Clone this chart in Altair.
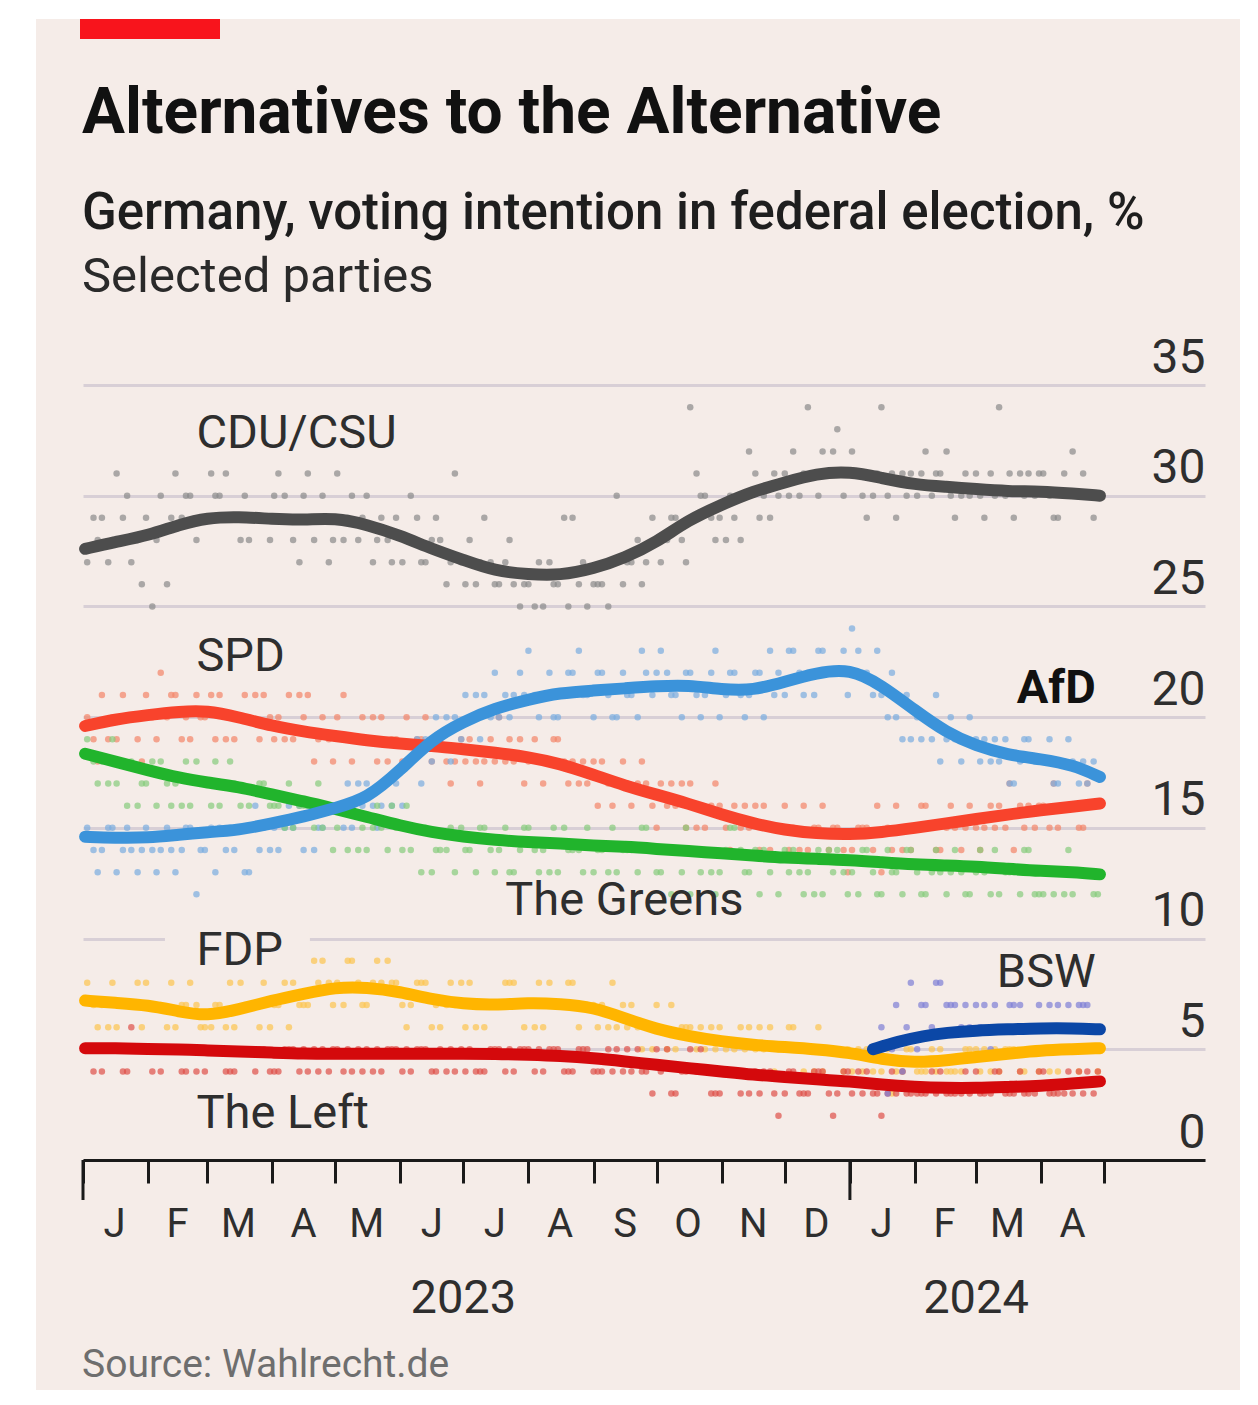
import altair as alt
import pandas as pd

# ---------------- smoothed trend lines (semi-monthly readings, %) ----------------
line_dates = ["2023-01-02", "2023-01-16", "2023-02-01", "2023-02-16", "2023-03-01", "2023-03-16",
              "2023-04-01", "2023-04-16", "2023-05-01", "2023-05-16", "2023-06-01", "2023-06-16",
              "2023-07-01", "2023-07-16", "2023-08-01", "2023-08-16", "2023-09-01", "2023-09-16",
              "2023-10-01", "2023-10-16", "2023-11-01", "2023-11-16", "2023-12-01", "2023-12-16",
              "2024-01-01", "2024-01-16", "2024-02-01", "2024-02-16", "2024-03-01", "2024-03-16",
              "2024-04-01", "2024-04-16", "2024-04-29"]
cdu_line = [27.6, 27.9, 28.2, 28.7, 29.0, 29.05, 28.95, 28.9, 29.0, 28.7, 28.2, 27.6, 27.1, 26.6, 26.45,
            26.4, 26.7, 27.2, 27.9, 28.9, 29.6, 30.2, 30.6, 31.0, 31.1, 30.8, 30.5, 30.4, 30.3, 30.2,
            30.2, 30.1, 30.0]
spd_line = [19.6, 19.9, 20.1, 20.25, 20.3, 20.0, 19.6, 19.35, 19.15, 18.95, 18.8, 18.7, 18.55, 18.4, 18.2,
            17.9, 17.4, 16.9, 16.5, 16.1, 15.6, 15.2, 14.9, 14.75, 14.7, 14.8, 15.0, 15.2, 15.4, 15.6,
            15.8, 15.95, 16.1]
afd_line = [14.6, 14.55, 14.55, 14.7, 14.8, 14.9, 15.2, 15.5, 15.9, 16.3, 17.6, 19.0, 19.8, 20.4, 20.8,
            21.1, 21.2, 21.3, 21.4, 21.45, 21.25, 21.2, 21.6, 22.0, 22.2, 21.45, 20.3, 19.3, 18.7, 18.3,
            18.1, 17.85, 17.3]
greens_line = [18.35, 18.0, 17.6, 17.25, 17.05, 16.85, 16.5, 16.2, 15.85, 15.5, 15.1, 14.8, 14.6, 14.45,
               14.35, 14.3, 14.2, 14.15, 14.05, 13.95, 13.85, 13.75, 13.65, 13.6, 13.55, 13.45, 13.35,
               13.3, 13.25, 13.15, 13.05, 13.0, 12.9]
fdp_line = [7.2, 7.1, 7.0, 6.7, 6.5, 6.8, 7.2, 7.5, 7.8, 7.8, 7.6, 7.25, 7.05, 7.0, 7.1, 7.05, 6.9, 6.4,
            5.9, 5.6, 5.35, 5.2, 5.1, 5.0, 4.85, 4.55, 4.4, 4.5, 4.65, 4.8, 4.95, 5.0, 5.05]
left_line = [5.05, 5.05, 5.0, 5.0, 4.95, 4.9, 4.85, 4.8, 4.8, 4.8, 4.8, 4.8, 4.8, 4.8, 4.75, 4.7, 4.6,
             4.45, 4.3, 4.15, 4.0, 3.85, 3.75, 3.65, 3.55, 3.4, 3.3, 3.25, 3.25, 3.3, 3.35, 3.45, 3.55]
bsw_dates = ["2024-01-12", "2024-01-24", "2024-02-05", "2024-02-16", "2024-03-01", "2024-03-16",
             "2024-04-01", "2024-04-16", "2024-04-29"]
bsw_line = [5.0, 5.35, 5.6, 5.75, 5.85, 5.9, 5.95, 5.95, 5.9]

# ---------------- individual polls: three per week from 3 Jan 2023 ----------------
cdu_poll_a = [27, 29, 31, 27, 29, 30, 31, 30, 29, 30, 29, 28, 29, 31, 28, 31, 30, 31, 30, 30, 29,
              29, 30, 27, 28, 31, 28, 29, 26, 26, 26, 25, 26, 29, 25, 26, 30, 27, 27, 27, 29, 34, 30, 29,
              29, 32, 30, 30, 32, 34, 32, 33, 32, 29, 34, 29, 31, 32, 31, 29, 30, 29, 34, 29, 31,
              31, 29, 32, 30]
cdu_poll_b = [29, 27, 29, 28, 25, 26, 29, 28, 31, 31, 28, 29, 28, 30, 27, 28, 27, 28, 28, 27, 28,
              27, 29, 28, 26, 27, 26, 27, 27, 25, 25, 27, 29, 26, 26, 25, 26, 28, 29, 28, 28, 31, 29, 28,
              28, 31, 29, 31, 30, 31, 31, 30, 31, 30, 30, 31, 30, 30, 32, 30, 31, 31, 30, 31, 30,
              30, 31, 30, 29]
cdu_poll_c = [28, 28, 30, 26, 28, 29, 30, 29, 30, 29, 30, 29, 30, 29, 30, 29, 28, 29, 29, 28, 27,
              28, 27, 29, 27, 26, 27, 26, 28, 26, 27, 26, 25, 27, 26, 27, 27, 26, 28, 29, 27, 30, 28, 30,
              30, 29, 31, 30, 31, 30, 32, 31, 30, 31, 31, 30, 31, 31, 30, 31, 30, 30, 31, 30, 31,
              29, 30, 31, 30]
spd_poll_a = [20, 21, 19, 20, 21, 22, 21, 19, 20, 21, 19, 20, 21, 20, 19, 21, 20, 20, 18, 19, 20,
              19, 18, 20, 19, 18, 19, 18, 20, 18, 18, 17, 19, 18, 17, 18, 17, 16, 17, 17, 16, 17, 15, 16,
              16, 15, 16, 15, 15, 14, 16, 15, 14, 15, 13, 16, 14, 16, 14, 15, 16, 15, 16, 14, 16,
              16, 15, 16, 17]
spd_poll_b = [19, 19, 21, 19, 20, 20, 19, 21, 21, 19, 20, 21, 20, 19, 21, 18, 19, 21, 19, 20, 18,
              18, 19, 18, 18, 19, 18, 19, 18, 19, 19, 18, 18, 17, 18, 17, 18, 17, 16, 16, 17, 15, 16, 15,
              15, 16, 14, 16, 14, 15, 14, 14, 15, 14, 15, 14, 15, 15, 15, 14, 15, 16, 15, 16, 15,
              15, 16, 15, 16]
spd_poll_c = [18, 20, 20, 18, 19, 21, 20, 20, 19, 20, 21, 19, 19, 21, 20, 19, 18, 19, 20, 18, 19,
              20, 19, 19, 17, 18, 17, 18, 19, 17, 18, 19, 17, 18, 16, 16, 17, 18, 15, 17, 15, 16, 17, 14,
              16, 14, 15, 14, 16, 15, 15, 13, 15, 16, 14, 15, 16, 14, 16, 15, 14, 15, 17, 15, 16,
              17, 16, 15, 16]
afd_poll_a = [15, 14, 13, 14, 15, 14, 13, 15, 14, 15, 14, 13, 15, 14, 15, 16, 15, 16, 15, 17, 16,
              17, 18, 19, 19, 20, 20, 21, 20, 21, 23, 21, 20, 22, 21, 22, 20, 21, 22, 23, 21, 22, 21, 20,
              22, 21, 20, 22, 23, 22, 23, 22, 24, 22, 21, 20, 19, 20, 18, 19, 20, 19, 18, 17, 19,
              18, 17, 18, 17]
afd_poll_b = [14, 15, 14, 13, 14, 15, 14, 12, 15, 14, 15, 16, 14, 15, 16, 14, 16, 15, 17, 16, 17,
              16, 19, 18, 20, 19, 21, 20, 21, 22, 21, 22, 21, 23, 20, 21, 22, 20, 21, 22, 20, 21, 22, 21,
              21, 22, 23, 21, 22, 21, 22, 23, 23, 21, 20, 19, 20, 19, 19, 18, 19, 18, 19, 18, 18,
              19, 18, 17, 18]
afd_poll_c = [13, 15, 15, 14, 13, 14, 15, 14, 13, 15, 13, 14, 15, 16, 14, 15, 16, 17, 16, 15, 16,
              18, 17, 20, 18, 21, 19, 22, 20, 21, 20, 20, 22, 21, 22, 20, 21, 23, 22, 21, 22, 20, 23, 22,
              20, 22, 21, 23, 21, 23, 22, 21, 22, 23, 22, 21, 19, 21, 20, 19, 18, 19, 17, 19, 18,
              17, 19, 18, 16]
greens_poll_a = [19, 18, 17, 18, 17, 18, 17, 16, 17, 16, 17, 16, 17, 16, 15, 16, 15, 15, 16, 14, 15,
                 15, 14, 15, 14, 13, 14, 15, 14, 13, 15, 14, 13, 14, 15, 14, 13, 14, 15, 13, 14, 12, 14, 13,
                 15, 13, 14, 12, 14, 13, 12, 14, 13, 14, 12, 13, 14, 12, 13, 14, 12, 13, 12, 13, 14,
                 12, 13, 12, 13]
greens_poll_b = [18, 17, 18, 16, 18, 17, 16, 18, 16, 17, 16, 15, 16, 15, 16, 15, 16, 16, 14, 15, 14,
                 14, 15, 13, 14, 15, 13, 14, 15, 14, 14, 13, 15, 14, 13, 13, 14, 13, 14, 14, 13, 14, 13, 14,
                 14, 14, 13, 14, 13, 12, 14, 13, 12, 13, 14, 12, 13, 13, 12, 13, 13, 12, 13, 12, 12,
                 13, 12, 13, 12]
greens_poll_c = [17, 19, 16, 17, 16, 16, 18, 17, 18, 18, 15, 17, 16, 17, 16, 17, 14, 14, 15, 16, 16,
                 16, 13, 14, 15, 14, 15, 13, 13, 15, 13, 15, 14, 13, 14, 15, 14, 15, 13, 12, 15, 13, 12, 15,
                 13, 12, 15, 13, 12, 14, 13, 12, 14, 12, 13, 14, 12, 14, 13, 12, 14, 14, 13, 14, 12,
                 12, 14, 13, 12]
fdp_poll_a = [8, 7, 6, 7, 8, 7, 6, 8, 6, 7, 6, 7, 8, 7, 8, 7, 9, 8, 9, 7, 8,
              8, 7, 8, 6, 7, 8, 6, 7, 8, 7, 6, 7, 8, 7, 7, 6, 7, 6, 6, 5, 6, 5, 6,
              5, 6, 5, 5, 6, 5, 4, 5, 4, 5, 4, 4, 5, 4, 5, 4, 5, 5, 4, 5, 5,
              5, 4, 5, 5]
fdp_poll_b = [7, 6, 7, 8, 7, 6, 7, 7, 6, 6, 8, 7, 6, 8, 7, 9, 8, 7, 8, 8, 9,
              7, 8, 6, 7, 8, 6, 7, 8, 7, 6, 8, 7, 6, 7, 6, 7, 6, 5, 5, 6, 5, 6, 5,
              6, 5, 6, 5, 5, 4, 5, 4, 5, 4, 5, 4, 4, 5, 4, 4, 5, 4, 5, 4, 5,
              4, 5, 4, 5]
fdp_poll_c = [6, 8, 7, 6, 7, 8, 7, 6, 7, 8, 7, 6, 7, 6, 7, 8, 7, 9, 7, 9, 8,
              6, 8, 7, 8, 6, 7, 7, 8, 6, 8, 7, 8, 7, 6, 8, 6, 5, 7, 7, 6, 6, 5, 4,
              5, 6, 4, 6, 4, 6, 5, 5, 4, 5, 3, 5, 4, 4, 4, 5, 4, 5, 5, 4, 4,
              5, 5, 6, 4]
left_poll_a = [5, 4, 5, 6, 5, 4, 5, 5, 4, 5, 4, 5, 5, 4, 5, 4, 5, 5, 4, 5, 4,
               5, 4, 5, 5, 4, 5, 4, 5, 4, 5, 4, 5, 4, 5, 4, 5, 4, 4, 4, 3, 5, 4, 3,
               4, 3, 4, 2, 4, 3, 4, 3, 3, 4, 2, 3, 3, 3, 4, 3, 3, 3, 4, 3, 3,
               4, 3, 3, 4]
left_poll_b = [4, 5, 4, 5, 4, 5, 4, 4, 5, 4, 5, 4, 4, 5, 4, 5, 4, 4, 5, 4, 5,
               4, 5, 4, 4, 5, 4, 5, 4, 5, 4, 5, 4, 5, 4, 5, 4, 5, 3, 5, 4, 4, 3, 4,
               3, 4, 4, 3, 3, 4, 3, 4, 4, 3, 3, 4, 3, 4, 3, 3, 4, 3, 3, 4, 3,
               3, 3, 4, 3]
left_poll_c = [5, 5, 4, 5, 5, 5, 4, 5, 5, 4, 5, 5, 4, 5, 5, 4, 5, 5, 4, 5, 5,
               5, 5, 4, 5, 4, 4, 5, 5, 5, 5, 5, 4, 5, 4, 4, 5, 4, 5, 3, 4, 5, 3, 4,
               4, 3, 3, 4, 3, 4, 2, 4, 3, 3, 4, 3, 3, 3, 3, 4, 3, 4, 3, 3, 4,
               3, 4, 3, 4]
bsw_poll_a = [6, 7, 8, 7, 8, 7, 6, 7, 6, 7, 6, 6, 7, 6, 7]
bsw_poll_b = [3, 4, 5, 6, 7, 6, 7, 5, 6, 7, 6, 7, 6, 7, 6]
bsw_poll_c = [5, 6, 7, 8, 7, 7, 6, 7, 7, 6, 7, 6, 7, 7, 6]

# ---------------- axis / annotation text ----------------
month_labels = ["J", "F", "M", "A", "M", "J", "J", "A", "S", "O", "N", "D", "J", "F", "M", "A"]
month_label_dates = ["2023-01-16", "2023-02-15", "2023-03-16", "2023-04-16", "2023-05-16", "2023-06-16",
                     "2023-07-16", "2023-08-16", "2023-09-16", "2023-10-16", "2023-11-16", "2023-12-16",
                     "2024-01-16", "2024-02-15", "2024-03-16", "2024-04-16"]
year_labels = ["2023", "2024"]
year_label_dates = ["2023-07-01", "2024-03-01"]
year_start_dates = ["2023-01-01", "2024-01-01"]
left_labels = ["CDU/CSU", "SPD", "The Greens", "FDP", "The Left"]
left_label_dates = ["2023-02-24", "2023-02-24", "2023-07-21", "2023-02-24", "2023-02-24"]
left_label_values = [32.16, 22.09, 11.07, 8.81, 1.45]

FONT = "Roboto"
BG = "#f5ece8"
TXT = "#2e2e2e"

weeks_a = pd.date_range("2023-01-03", periods=69, freq="7D")
wa = [d.strftime("%Y-%m-%d") for d in weeks_a]
wb = [(d + pd.Timedelta(days=3)).strftime("%Y-%m-%d") for d in weeks_a]
wc = [(d + pd.Timedelta(days=5)).strftime("%Y-%m-%d") for d in weeks_a]

dot_colors = {"CDU/CSU": "#8a8a8a", "SPD": "#f48468", "AfD": "#79acdf", "The Greens": "#86cc7c",
              "FDP": "#fcc54e", "The Left": "#de5048", "BSW": "#7d7fd6"}
polls = [("CDU/CSU", [cdu_poll_a, cdu_poll_b, cdu_poll_c], 0),
         ("SPD", [spd_poll_a, spd_poll_b, spd_poll_c], 0),
         ("AfD", [afd_poll_a, afd_poll_b, afd_poll_c], 0),
         ("The Greens", [greens_poll_a, greens_poll_b, greens_poll_c], 0),
         ("FDP", [fdp_poll_a, fdp_poll_b, fdp_poll_c], 0),
         ("The Left", [left_poll_a, left_poll_b, left_poll_c], 0),
         ("BSW", [bsw_poll_a, bsw_poll_b, bsw_poll_c], 54)]
rows = []
for party, lists, start in polls:
    for dates, vals in zip([wa, wb, wc], lists):
        assert len(vals) == 69 - start, party
        for d, v in zip(dates[start:], vals):
            rows.append({"date": d, "value": v, "color": dot_colors[party]})
polls_df = pd.DataFrame(rows)


def ms(s):
    return int(pd.Timestamp(s).value // 10**6)


xscale = alt.Scale(type="utc", domain=[ms("2023-01-01"), ms("2024-06-18")])
tick_vals = [int(t.value // 10**6) for t in pd.date_range("2023-01-01", "2024-05-01", freq="MS")]
xaxis = alt.Axis(values=tick_vals, labels=False, tickSize=23, tickWidth=3, tickColor="#1a1a1a",
                 domainColor="#1a1a1a", domainWidth=3, grid=False, title=None, zindex=1)
yscale = alt.Scale(domain=[0, 35], nice=False)
yaxis = alt.Axis(orient="right", values=list(range(0, 36, 5)), grid=True, gridColor="#d8cfd6",
                 gridWidth=3, domain=False, ticks=False, tickSize=0, labelAlign="right",
                 labelBaseline="alphabetic", labelPadding=0, labelOffset=-13, labelFontSize=48,
                 labelFont=FONT, labelColor=TXT, title=None, labelOverlap=False)


def X(field="date"):
    return alt.X(f"{field}:T", scale=xscale, axis=xaxis)


def Y(field="value"):
    return alt.Y(f"{field}:Q", scale=yscale, axis=yaxis)


one = pd.DataFrame({"k": [0]})


def deco_rect(x, x2, y, y2, color):
    return alt.Chart(one).mark_rect(color=color).encode(
        x=alt.value(x), x2=alt.value(x2), y=alt.value(y), y2=alt.value(y2))


def header(txt, y, size, weight, color):
    return alt.Chart(one).mark_text(text=txt, align="left", baseline="alphabetic", font=FONT,
                                    fontSize=size, fontWeight=weight, color=color).encode(
        x=alt.value(-1), y=alt.value(y))


layers = []
# white page margins around the panel and the red tag
layers.append(deco_rect(-75, -47, -377, 1010, "white"))
layers.append(deco_rect(-75, 1162, -377, -366, "white"))
layers.append(deco_rect(1157, 1162, -377, 1010, "white"))
layers.append(deco_rect(-3, 137, -366, -346, "#f8141c"))
layers.append(header("Alternatives to the Alternative", -252, 64, "bold", "#111111"))
layers.append(header("Germany, voting intention in federal election, %", -156, 51, 500, "#1e1e1e"))
layers.append(header("Selected parties", -93, 49, "normal", "#2a2a2a"))
layers.append(header("Source: Wahlrecht.de", 992, 39, "normal", "#6e6e6e"))

# gap in gridline behind FDP label
gap_df = pd.DataFrame({"start": ["2023-02-09"], "end": ["2023-04-19"], "lo": [9.5], "hi": [10.5]})
layers.append(alt.Chart(gap_df).mark_rect(color=BG).encode(
    x=X("start"), x2="end:T", y=Y("lo"), y2="hi:Q"))

# poll dots
layers.append(alt.Chart(polls_df).mark_point(shape="circle", filled=True, size=42, opacity=0.7).encode(
    x=X(), y=Y(), color=alt.Color("color:N", scale=None)))

# trend lines
line_specs = [(left_line, line_dates, "#d4090c"), (fdp_line, line_dates, "#ffb500"),
              (greens_line, line_dates, "#21b42c"), (spd_line, line_dates, "#f8432c"),
              (bsw_line, bsw_dates, "#0b47a6"), (afd_line, line_dates, "#3b93da"),
              (cdu_line, line_dates, "#4d4d4d")]
for vals, dates, col in line_specs:
    df = pd.DataFrame({"date": dates, "value": vals})
    layers.append(alt.Chart(df).mark_line(interpolate="basis", strokeWidth=12, strokeCap="round",
                                          color=col).encode(x=X(), y=Y()))

# party labels
lab_df = pd.DataFrame({"date": left_label_dates, "value": left_label_values, "label": left_labels})
layers.append(alt.Chart(lab_df).mark_text(align="left", baseline="alphabetic", font=FONT, fontSize=47,
                                          color=TXT).encode(x=X(), y=Y(), text="label:N"))
afd_df = pd.DataFrame({"date": ["2024-04-27"], "value": [20.64], "label": ["AfD"]})
layers.append(alt.Chart(afd_df).mark_text(align="right", baseline="alphabetic", font=FONT, fontSize=47,
                                          fontWeight="bold", color="#111111").encode(
    x=X(), y=Y(), text="label:N"))
bsw_df = pd.DataFrame({"date": ["2024-04-27"], "value": [7.81], "label": ["BSW"]})
layers.append(alt.Chart(bsw_df).mark_text(align="right", baseline="alphabetic", font=FONT, fontSize=47,
                                          color=TXT).encode(x=X(), y=Y(), text="label:N"))

# long ticks at year starts
yt_df = pd.DataFrame({"date": year_start_dates})
layers.append(alt.Chart(yt_df).mark_rule(color="#1a1a1a", strokeWidth=3).encode(
    x=X(), y=alt.value(775), y2=alt.value(815)))

# month and year labels
m_df = pd.DataFrame({"date": month_label_dates, "label": month_labels})
layers.append(alt.Chart(m_df).mark_text(align="center", baseline="alphabetic", font=FONT, fontSize=40,
                                        color=TXT).encode(x=X(), y=alt.value(852), text="label:N"))
y_df = pd.DataFrame({"date": year_label_dates, "label": year_labels})
layers.append(alt.Chart(y_df).mark_text(align="center", baseline="alphabetic", font=FONT, fontSize=47,
                                        color=TXT).encode(x=X(), y=alt.value(928), text="label:N"))

chart = alt.layer(*layers).properties(
    width=1122, height=775,
    autosize=alt.AutoSizeParams(type="none"),
    padding={"left": 75, "top": 377, "right": 40, "bottom": 230},
    background=BG,
).configure_view(strokeWidth=0)

chart.save("out.html", embed_options={"renderer": "svg", "actions": False})
